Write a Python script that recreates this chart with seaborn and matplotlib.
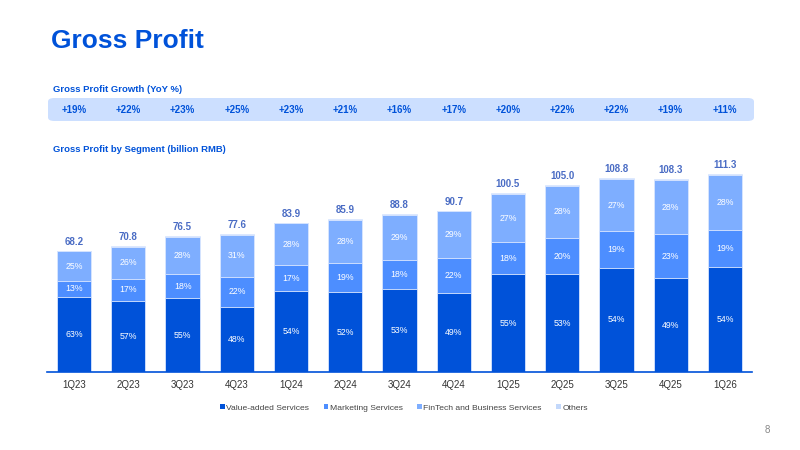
import numpy as np
import pandas as pd
import matplotlib
matplotlib.use("Agg")
import matplotlib.pyplot as plt
from matplotlib.patches import FancyBboxPatch, Patch
import seaborn as sns

quarters = ["1Q23", "2Q23", "3Q23", "4Q23", "1Q24", "2Q24", "3Q24",
            "4Q24", "1Q25", "2Q25", "3Q25", "4Q25", "1Q26"]
totals = [68.2, 70.8, 76.5, 77.6, 83.9, 85.9, 88.8, 90.7, 100.5, 105.0, 108.8, 108.3, 111.3]
growth = ["+19%", "+22%", "+23%", "+25%", "+23%", "+21%", "+16%",
          "+17%", "+20%", "+22%", "+22%", "+19%", "+11%"]
vas_pct = [63, 57, 55, 48, 54, 52, 53, 49, 55, 53, 54, 49, 54]
mkt_pct = [13, 17, 18, 22, 17, 19, 18, 22, 18, 20, 19, 23, 19]
fin_pct = [25, 26, 28, 31, 28, 28, 29, 29, 27, 28, 27, 28, 28]
oth_pct = [0.5] * 13   # barely visible sliver

segments = ["Value-added Services", "Marketing Services",
            "FinTech and Business Services", "Others"]
colors = ["#0052D9", "#4D8EFF", "#7EAEFF", "#C3D8FB"]
blue = "#0052D9"

sns.set_style("white")
plt.rcParams["font.family"] = ["Liberation Sans", "DejaVu Sans"]

# segment values in billion RMB (shares normalised to the total)
pcts = np.array([vas_pct, mkt_pct, fin_pct, oth_pct], dtype=float)
vals = pcts / pcts.sum(axis=0) * np.array(totals)
cum = np.cumsum(vals, axis=0)

df = pd.DataFrame({"quarter": quarters})
for i, s in enumerate(segments):
    df[s] = cum[i]

fig = plt.figure(figsize=(8, 4.5), dpi=100)
ax = fig.add_axes([47 / 800, 78 / 450, 705 / 800, 213.5 / 450])

# draw from top layer down so each layer covers the one above
for i in range(3, -1, -1):
    sns.barplot(data=df, x="quarter", y=segments[i], color=colors[i],
                width=0.63, edgecolor="#DCE8FF", linewidth=0.6,
                saturation=1, ax=ax)

ax.set_xlim(-0.5, 12.5)
ax.set_ylim(0, 120)
ax.set_xlabel("")
ax.set_ylabel("")
ax.set_yticks([])
for sp in ["top", "right", "left"]:
    ax.spines[sp].set_visible(False)
ax.spines["bottom"].set_color(blue)
ax.spines["bottom"].set_linewidth(1.2)
ax.tick_params(axis="x", length=0, labelsize=7, colors="#333333", pad=6)

bottoms = np.vstack([np.zeros(13), cum[:-1]])
for j in range(13):
    for i, p in enumerate([vas_pct, mkt_pct, fin_pct]):
        y = bottoms[i, j] + vals[i, j] / 2
        ax.text(j, y, f"{p[j]}%", ha="center", va="center",
                color="white", fontsize=6.3)
    ax.text(j, totals[j] + 2.3, f"{totals[j]:.1f}", ha="center", va="bottom",
            color="#4A6CC4", fontsize=7, fontweight="bold")

# titles
fig.text(51 / 800, 1 - 41 / 450, "Gross Profit", fontsize=19, fontweight="bold",
         color=blue, va="center", ha="left")
fig.text(53 / 800, 1 - 90 / 450, "Gross Profit Growth (YoY %)", fontsize=6.8,
         fontweight="bold", color=blue, va="center")
fig.text(53 / 800, 1 - 150 / 450, "Gross Profit by Segment (billion RMB)",
         fontsize=6.8, fontweight="bold", color=blue, va="center")

# growth band
band = FancyBboxPatch((48 / 800, 1 - 121 / 450), 706 / 800, 23 / 450,
                      boxstyle="round,pad=0,rounding_size=0.008",
                      transform=fig.transFigure, facecolor="#CCDFFF",
                      edgecolor="none")
fig.patches.append(band)
for j, g in enumerate(growth):
    xf = (47 + (j + 0.5) * 705 / 13) / 800
    fig.text(xf, 1 - 110 / 450, g, ha="center", va="center", fontsize=7,
             fontweight="bold", color=blue)

handles = [Patch(facecolor=c, edgecolor="none") for c in colors]
fig.legend(handles, segments, loc="center", bbox_to_anchor=(0.505, 1 - 408 / 450),
           ncol=4, frameon=False, fontsize=6.1, handlelength=0.55,
           handleheight=0.55, handletextpad=0.2, columnspacing=1.7,
           labelcolor="#444444")

fig.text(767 / 800, 1 - 430 / 450, "8", fontsize=7, color="#888888",
         ha="center", va="center")

fig.savefig("out.png", dpi=100)
